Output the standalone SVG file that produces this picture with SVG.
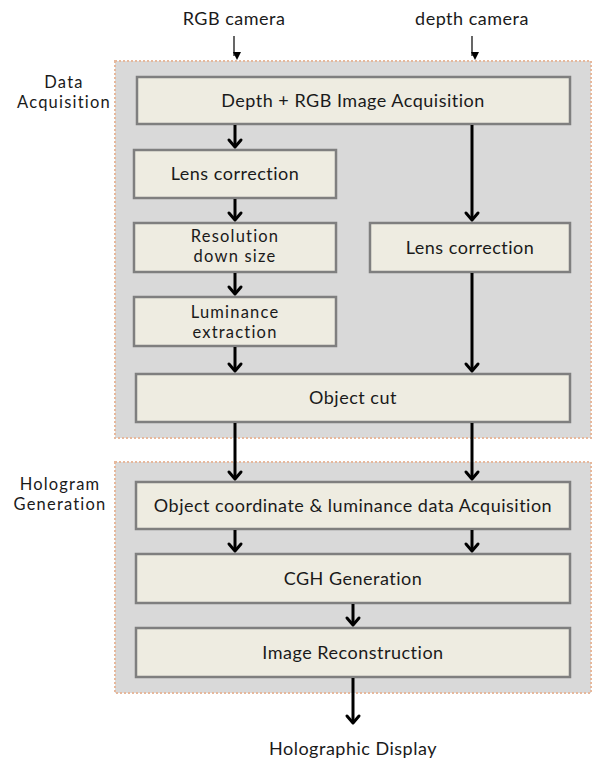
<svg xmlns="http://www.w3.org/2000/svg" width="596" height="762" viewBox="0 0 596 762">
<defs>
<style>
.panel{fill:#d9d9d9;stroke:#e6b89c;stroke-width:2;stroke-dasharray:2 2}
.box{fill:#eeece1;stroke:#7f7f7f;stroke-width:2.5}
.t{font-family:Lato,"Open Sans",sans-serif;font-size:18px;letter-spacing:0.5px;fill:#1a1a1a;text-anchor:middle}
.t2{font-size:16.5px;letter-spacing:1.2px}
.thick{stroke:#000;stroke-width:3;fill:none}
.head{stroke:#000;stroke-width:3;fill:none;stroke-linecap:round;stroke-linejoin:round}
.thin{stroke:#000;stroke-width:1.2;fill:none}
</style>
<marker id="th" markerWidth="8" markerHeight="8" refX="4" refY="7" orient="auto" markerUnits="userSpaceOnUse" viewBox="0 0 8 8">
<path d="M0,0 L8,0 L4,8 Z" fill="#000" transform="rotate(-90 4 4)"/>
</marker>
</defs>
<rect width="596" height="762" fill="#fff"/>
<g id="panel-data">
<rect class="panel" x="115" y="61" width="476" height="377"/>
<text class="t t2" x="64" y="88">Data</text>
<text class="t t2" x="64" y="108">Acquisition</text>
</g>
<g id="panel-holo">
<rect class="panel" x="115" y="462" width="476" height="231"/>
<text class="t t2" x="60" y="490">Hologram</text>
<text class="t t2" x="60" y="510">Generation</text>
</g>
<g id="label-rgb"><text class="t" x="234" y="25">RGB camera</text></g>
<g id="label-depth"><text class="t" x="472" y="25">depth camera</text></g>
<g id="label-display"><text class="t" x="353" y="755">Holographic Display</text></g>
<g id="n-acq"><rect class="box" x="137" y="77" width="433" height="47"/><text class="t" x="353" y="107">Depth + RGB Image Acquisition</text></g>
<g id="n-lens1"><rect class="box" x="134" y="150" width="202" height="48"/><text class="t" x="235" y="180">Lens correction</text></g>
<g id="n-res"><rect class="box" x="134" y="223" width="202" height="49"/><text class="t t2" x="235" y="242">Resolution</text><text class="t t2" x="235" y="262">down size</text></g>
<g id="n-lum"><rect class="box" x="134" y="297" width="202" height="49"/><text class="t t2" x="235" y="318">Luminance</text><text class="t t2" x="235" y="338">extraction</text></g>
<g id="n-lens2"><rect class="box" x="370" y="223" width="200" height="49"/><text class="t" x="470" y="254">Lens correction</text></g>
<g id="n-cut"><rect class="box" x="136" y="374" width="434" height="48"/><text class="t" x="353" y="404">Object cut</text></g>
<g id="n-coord"><rect class="box" x="136" y="482" width="434" height="47"/><text class="t" x="353" y="512">Object coordinate &amp; luminance data Acquisition</text></g>
<g id="n-cgh"><rect class="box" x="136" y="554" width="434" height="49"/><text class="t" x="353" y="585">CGH Generation</text></g>
<g id="n-rec"><rect class="box" x="136" y="628" width="434" height="49"/><text class="t" x="353" y="659">Image Reconstruction</text></g>
<g id="connectors">
<path class="thin" d="M234,36 V56" marker-end="url(#th)"/>
<path class="thin" d="M472,36 V56" marker-end="url(#th)"/>
<path class="thick" d="M235,125 V147"/><path class="head" d="M229,140 L235,147 L241,140"/>
<path class="thick" d="M472,125 V220"/><path class="head" d="M466,213 L472,220 L478,213"/>
<path class="thick" d="M235,199 V220"/><path class="head" d="M229,213 L235,220 L241,213"/>
<path class="thick" d="M235,273 V294"/><path class="head" d="M229,287 L235,294 L241,287"/>
<path class="thick" d="M235,347 V371"/><path class="head" d="M229,364 L235,371 L241,364"/>
<path class="thick" d="M472,273 V371"/><path class="head" d="M466,364 L472,371 L478,364"/>
<path class="thick" d="M235,423 V479"/><path class="head" d="M229,472 L235,479 L241,472"/>
<path class="thick" d="M472,423 V479"/><path class="head" d="M466,472 L472,479 L478,472"/>
<path class="thick" d="M235,530 V551"/><path class="head" d="M229,544 L235,551 L241,544"/>
<path class="thick" d="M472,530 V551"/><path class="head" d="M466,544 L472,551 L478,544"/>
<path class="thick" d="M353,604 V625"/><path class="head" d="M347,618 L353,625 L359,618"/>
<path class="thick" d="M353,678 V723"/><path class="head" d="M347,716 L353,723 L359,716"/>
</g>
</svg>
